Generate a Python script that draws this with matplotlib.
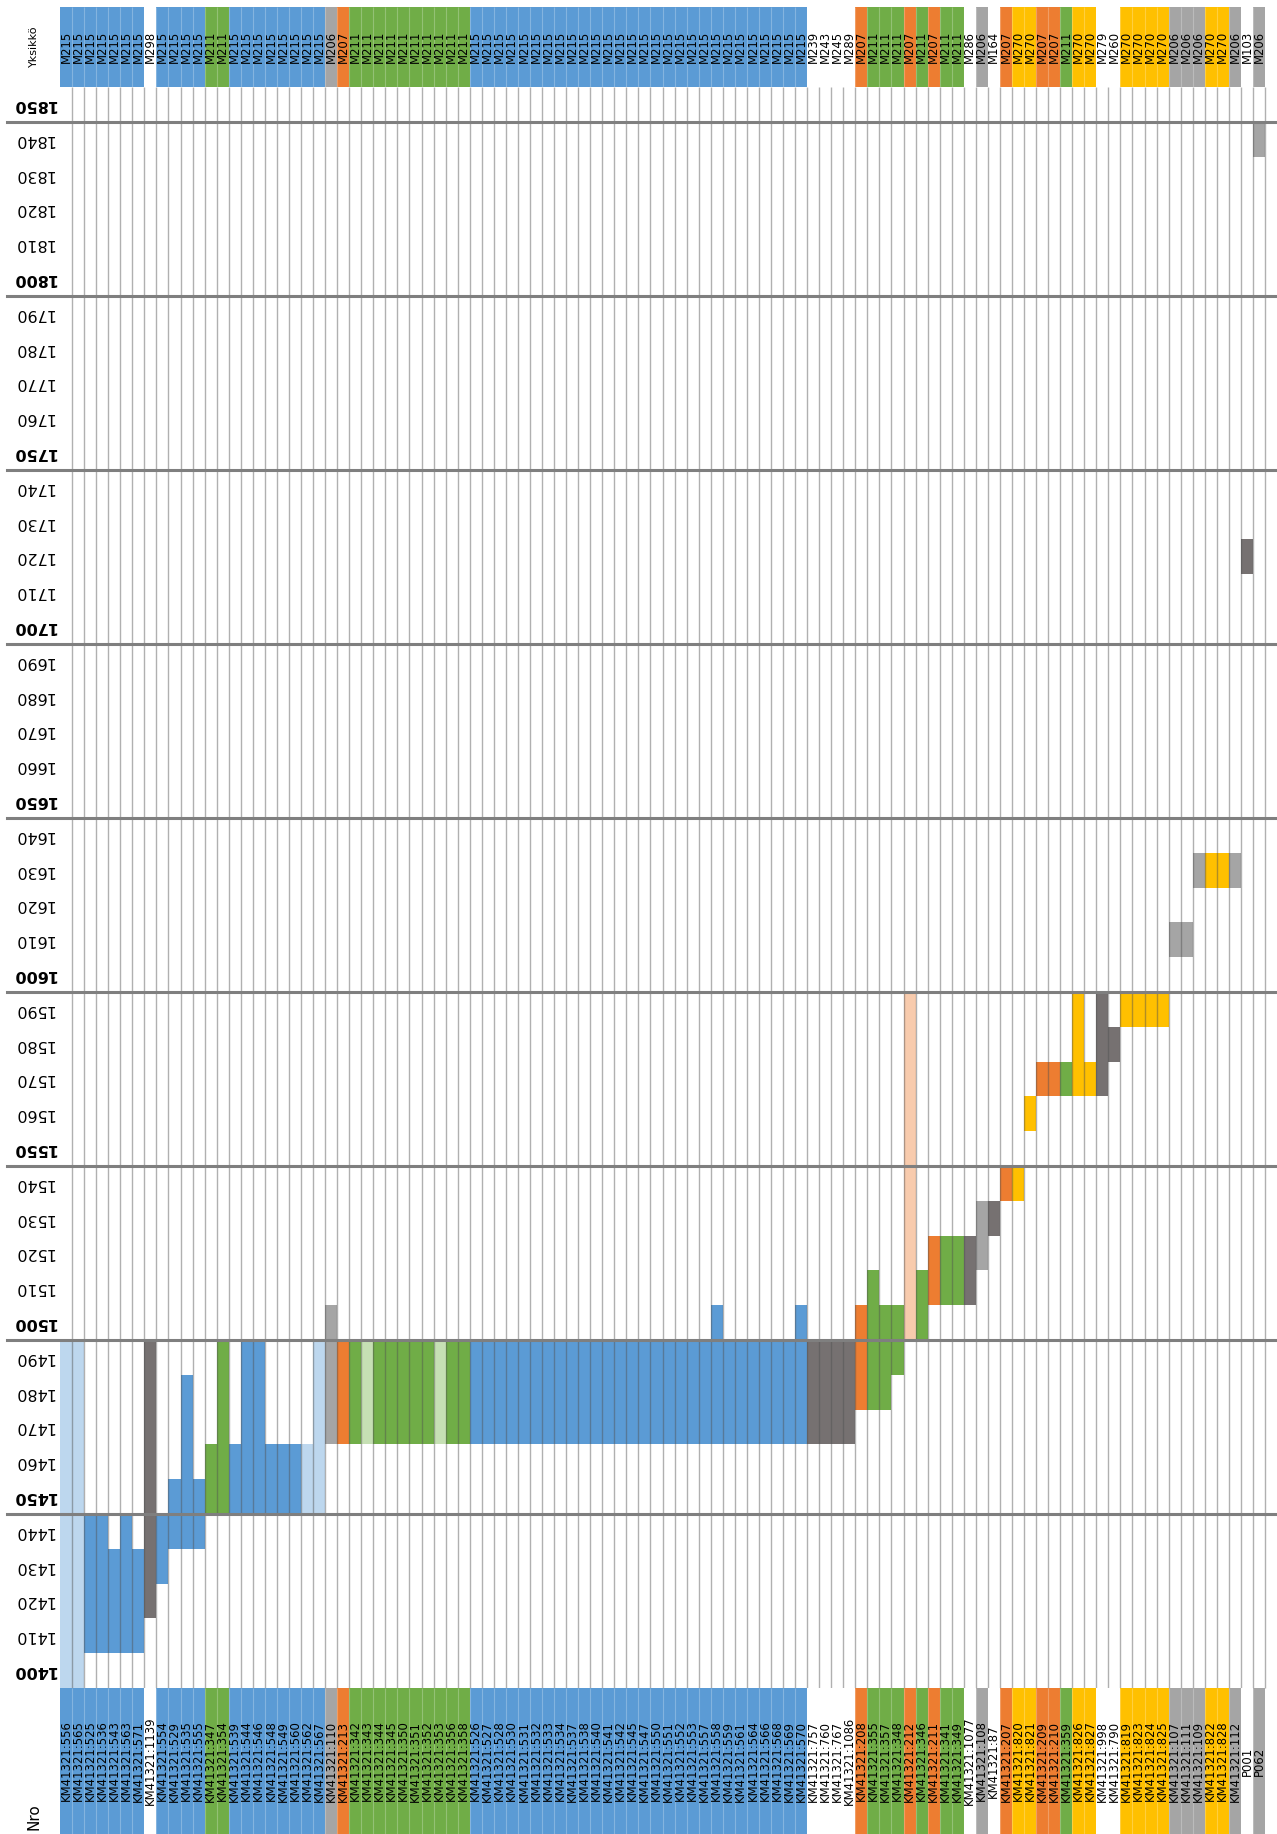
import matplotlib
matplotlib.use("Agg")
import matplotlib.pyplot as plt
import matplotlib.transforms as mtransforms
import numpy as np

# ---------------- data ----------------
nro = (["KM41321:556", "KM41321:565", "KM41321:525", "KM41321:536", "KM41321:543",
        "KM41321:563", "KM41321:571", "KM41321:1139", "KM41321:554", "KM41321:529",
        "KM41321:535", "KM41321:555", "KM41321:347", "KM41321:354", "KM41321:539",
        "KM41321:544", "KM41321:546", "KM41321:548", "KM41321:549", "KM41321:560",
        "KM41321:562", "KM41321:567", "KM41321:110", "KM41321:213", "KM41321:342",
        "KM41321:343", "KM41321:344", "KM41321:345", "KM41321:350", "KM41321:351",
        "KM41321:352", "KM41321:353", "KM41321:356", "KM41321:358"]
       + ["KM41321:%d" % n for n in [526, 527, 528, 530, 531, 532, 533, 534, 537, 538,
                                     540, 541, 542, 545, 547, 550, 551, 552, 553, 557,
                                     558, 559, 561, 564, 566, 568, 569, 570]]
       + ["KM41321:%d" % n for n in [757, 760, 767, 1086, 208, 355, 357, 348, 212, 346,
                                     211, 341, 349, 1077, 108, 87, 207, 820, 821, 209,
                                     210, 359, 826, 827, 998, 790, 819, 823, 824, 825,
                                     107, 111, 109, 822, 828, 112]]
       + ["P001", "P062"])

units = (["M215"] * 7 + ["M298"] + ["M215"] * 4 + ["M211"] * 2 + ["M215"] * 8
         + ["M206", "M207"] + ["M211"] * 10 + ["M215"] * 28
         + ["M239", "M243", "M245", "M289"]
         + ["M207", "M211", "M211", "M211", "M207", "M211", "M207", "M211", "M211"]
         + ["M286", "M206", "M164", "M207", "M270", "M270", "M207", "M207", "M211",
            "M270", "M270", "M279", "M260", "M270", "M270", "M270", "M270", "M206",
            "M206", "M206", "M270", "M270", "M206", "M103", "M206"])

start_year = ([1400, 1400, 1410, 1410, 1410, 1410, 1410, 1420, 1430, 1440,
               1440, 1440, 1450, 1450, 1450, 1450, 1450, 1450, 1450, 1450,
               1450, 1450, 1470, 1470] + [1470] * 10 + [1470] * 28 + [1470] * 4
              + [1480, 1480, 1480, 1490, 1500, 1500, 1510, 1510, 1510, 1510,
                 1520, 1530, 1540, 1540, 1560, 1570, 1570, 1570, 1570, 1570,
                 1570, 1580, 1590, 1590, 1590, 1590, 1610, 1610, 1630, 1630,
                 1630, 1630, 1720, 1840])

end_year = ([1500, 1500, 1450, 1450, 1440, 1450, 1440, 1500, 1450, 1460,
             1490, 1460, 1470, 1500, 1470, 1500, 1500, 1470, 1470, 1470,
             1470, 1500, 1510, 1500] + [1500] * 10
            + [1500] * 20 + [1510] + [1500] * 6 + [1510] + [1500] * 4
            + [1510, 1520, 1510, 1510, 1600, 1520, 1530, 1530, 1530, 1530,
               1540, 1540, 1550, 1550, 1570, 1580, 1580, 1580, 1600, 1580,
               1600, 1590, 1600, 1600, 1600, 1600, 1620, 1620, 1640, 1640,
               1640, 1640, 1730, 1850])

# columns with uncertain (light) dating
uncertain = [0, 1, 20, 21, 25, 31, 70]

year_ticks = list(range(1400, 1860, 10))

unit_colors = {"M215": "#5B9BD5", "M211": "#70AD47", "M207": "#ED7D31",
               "M206": "#A5A5A5", "M270": "#FFC000"}
light_colors = {"M215": "#BDD7EE", "M211": "#C6E0B4", "M207": "#F8CBAD"}
other_bar = "#767171"

# ---------------- figure ----------------
W, H = 1277, 1834
fig = plt.figure(figsize=(W / 100, H / 100), dpi=100)

def fx(px):
    return px / W

def fy(py):
    return 1 - py / H

n = len(nro)
x = np.arange(n) + 0.5
left_px, right_px = 60, 1265
pw = right_px - left_px

bar_colors = []
for i, u in enumerate(units):
    if u in unit_colors:
        c = light_colors.get(u, unit_colors[u]) if i in uncertain else unit_colors[u]
    else:
        c = other_bar
    bar_colors.append(c)
head_colors = [unit_colors.get(u, "white") for u in units]

# main plot
ax = fig.add_axes([fx(left_px), fy(1688), pw / W, (1688 - 87) / H])
ax.set_xlim(0, n)
ax.set_ylim(1400, 1860)
ax.axis("off")
heights = np.array(end_year) - np.array(start_year)
ax.bar(x, heights, bottom=start_year, width=1.0, color=bar_colors, linewidth=0, zorder=2)
ax.vlines(np.arange(1, n + 1), 1400, 1860, colors="#505050", alpha=0.45,
          linewidth=1.0, zorder=3, clip_on=False)
for y in range(1450, 1860, 50):
    ax.axhline(y, xmin=(7 - left_px) / pw, xmax=(W - left_px) / pw, color="#7F7F7F",
               linewidth=2.2, zorder=4, clip_on=False)

trans = mtransforms.blended_transform_factory(ax.transAxes, ax.transData)
for y in year_ticks:
    ax.text((34 - left_px) / pw, y + 5, str(y), transform=trans, rotation=180,
            ha="center", va="center", fontsize=11.5,
            fontweight="bold" if y % 50 == 0 else "normal", color="black")

# header (Yksikkö)
hx = fig.add_axes([fx(left_px), fy(87), pw / W, 80 / H])
hx.set_xlim(0, n)
hx.set_ylim(0, 1)
hx.axis("off")
hx.bar(x, 1, bottom=0, width=1.0, color=head_colors, linewidth=0)
hx.vlines(np.arange(1, n), 0, 1, colors="white", alpha=0.25, linewidth=0.8)
for xi, u in zip(x, units):
    hx.text(xi, 0.5, u, rotation=90, ha="center", va="center", fontsize=8.4,
            color="black")

# footer (Nro)
bx = fig.add_axes([fx(left_px), 0, pw / W, (H - 1688) / H])
bx.set_xlim(0, n)
bx.set_ylim(0, 1)
bx.axis("off")
bx.bar(x, 1, bottom=0, width=1.0, color=head_colors, linewidth=0)
bx.vlines(np.arange(1, n), 0, 1, colors="white", alpha=0.25, linewidth=0.8)
for xi, lab in zip(x, nro):
    bx.text(xi, 0.5, lab, rotation=90, ha="center", va="center", fontsize=8.4,
            color="black")

fig.text(fx(34), fy(46), "Yksikkö", rotation=90, ha="center", va="center",
         fontsize=8, color="black")
fig.text(fx(34), fy(1817), "Nro", rotation=90, ha="center", va="center",
         fontsize=11, color="black")

fig.savefig("out.png", dpi=100)
